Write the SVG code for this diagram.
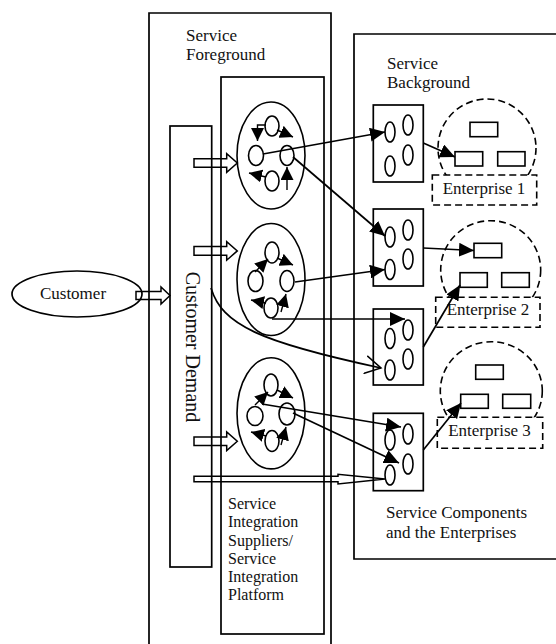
<svg xmlns="http://www.w3.org/2000/svg" width="556" height="644" viewBox="0 0 556 644">
<style>
  .ln{fill:none;stroke:#000;stroke-width:1.7}
  .bx{fill:none;stroke:#000;stroke-width:1.7}
  .wb{fill:#fff;stroke:#000;stroke-width:1.6}
  .el{fill:#fff;stroke:#000;stroke-width:1.6}
  .ds{fill:none;stroke:#000;stroke-width:1.6;stroke-dasharray:7 4}
  .dl{fill:#fff;stroke:#000;stroke-width:1.6;stroke-dasharray:7 4}
  .ba{fill:none;stroke:#000;stroke-width:1.5;stroke-linejoin:miter}
  .t{font-family:"Liberation Serif","Times New Roman",serif;font-size:17px;fill:#111}
  .ts{font-family:"Liberation Serif","Times New Roman",serif;font-size:16px;fill:#111}
  .c{fill:none;stroke:#000;stroke-width:1.6}
  .ci{fill:none;stroke:#000;stroke-width:1.4}
</style>
<defs>
  <marker id="ah" markerUnits="userSpaceOnUse" markerWidth="16" markerHeight="14" refX="15" refY="7" orient="auto">
    <path d="M0,0 L15,7 L0,14 z" fill="#000"/>
  </marker>
  <marker id="as" markerUnits="userSpaceOnUse" markerWidth="14" markerHeight="13" refX="13" refY="6.5" orient="auto">
    <path d="M0,0 L13,6.5 L0,13 z" fill="#000"/>
  </marker>
  <marker id="ao" markerUnits="userSpaceOnUse" markerWidth="18" markerHeight="20" refX="16" refY="10" orient="auto">
    <path d="M0,1 L16,10 L0,19" fill="none" stroke="#000" stroke-width="1.5"/>
  </marker>
</defs>

<g id="service-foreground">
  <path class="bx" d="M149,660 V13 H331 V660"/>
  <text class="t" x="186" y="41">Service</text>
  <text class="t" x="186" y="60">Foreground</text>
</g>

<g id="service-background">
  <path class="bx" d="M580,34 H354 V559 H580"/>
  <text class="t" x="387" y="69">Service</text>
  <text class="t" x="387" y="88">Background</text>
  <text class="t" x="386" y="518">Service Components</text>
  <text class="t" x="386" y="538">and the Enterprises</text>
</g>

<g id="platform">
  <rect class="bx" x="221" y="77" width="103" height="557"/>
  <text class="ts" x="228" y="509">Service</text>
  <text class="ts" x="228" y="527">Integration</text>
  <text class="ts" x="228" y="545.5">Suppliers/</text>
  <text class="ts" x="228" y="564">Service</text>
  <text class="ts" x="228" y="582">Integration</text>
  <text class="ts" x="228" y="600">Platform</text>
</g>

<g id="customer-demand">
  <rect class="bx" x="170" y="126" width="41.7" height="441"/>
  <text class="t" style="font-size:20px" text-anchor="middle" transform="translate(186,347) rotate(90)">Customer Demand</text>
</g>

<g id="customer">
  <ellipse class="bx" cx="77" cy="294" rx="65" ry="23"/>
  <text class="t" x="73" y="299" text-anchor="middle">Customer</text>
</g>

<g id="process-1">
  <ellipse class="c" cx="271" cy="155.5" rx="34" ry="53.5"/>
  <ellipse class="el" cx="272" cy="126" rx="7" ry="10"/>
  <ellipse class="el" cx="256" cy="155.5" rx="7.5" ry="10"/>
  <ellipse class="el" cx="287" cy="155.5" rx="7" ry="10"/>
  <ellipse class="el" cx="272" cy="181" rx="7" ry="10"/>
</g>
<g id="process-2">
  <ellipse class="c" cx="271" cy="279.5" rx="34" ry="56"/>
  <ellipse class="el" cx="272" cy="252.5" rx="7" ry="10.5"/>
  <ellipse class="el" cx="255.5" cy="281" rx="7.5" ry="10.5"/>
  <ellipse class="el" cx="287" cy="281" rx="7" ry="10.5"/>
  <ellipse class="el" cx="271" cy="308" rx="7" ry="10"/>
</g>
<g id="process-3">
  <ellipse class="c" cx="271" cy="413.3" rx="34" ry="55.6"/>
  <ellipse class="el" cx="271" cy="385" rx="7" ry="11"/>
  <ellipse class="el" cx="255" cy="416" rx="8" ry="9.5"/>
  <ellipse class="el" cx="287" cy="414" rx="8" ry="11"/>
  <ellipse class="el" cx="272" cy="441" rx="7" ry="10.5"/>
</g>

<g id="component-1">
  <rect class="bx" x="373.3" y="105" width="50" height="77"/>
  <ellipse class="el" cx="390" cy="132" rx="5" ry="10"/>
  <ellipse class="el" cx="390" cy="166" rx="5" ry="10"/>
  <ellipse class="el" cx="408" cy="125" rx="5" ry="10"/>
  <ellipse class="el" cx="408" cy="155" rx="5" ry="10"/>
</g>
<g id="component-2">
  <rect class="bx" x="373.3" y="209" width="50" height="77"/>
  <ellipse class="el" cx="390" cy="237" rx="5" ry="10"/>
  <ellipse class="el" cx="390" cy="269.5" rx="5" ry="10"/>
  <ellipse class="el" cx="408" cy="230" rx="5" ry="10"/>
  <ellipse class="el" cx="408" cy="259" rx="5" ry="10"/>
</g>
<g id="component-3">
  <rect class="bx" x="373.3" y="309" width="50" height="76"/>
  <ellipse class="el" cx="390" cy="338.5" rx="5" ry="10"/>
  <ellipse class="el" cx="390" cy="370" rx="5" ry="10"/>
  <ellipse class="el" cx="408" cy="330" rx="5" ry="10"/>
  <ellipse class="el" cx="408" cy="359" rx="5" ry="10"/>
</g>
<g id="component-4">
  <rect class="bx" x="373.3" y="413.3" width="50" height="77.4"/>
  <ellipse class="el" cx="390" cy="440" rx="5" ry="10"/>
  <ellipse class="el" cx="390" cy="475" rx="5" ry="10"/>
  <ellipse class="el" cx="408" cy="434" rx="5" ry="10"/>
  <ellipse class="el" cx="408" cy="464" rx="5" ry="10"/>
</g>

<g id="enterprise-1">
  <ellipse class="ds" cx="487" cy="148" rx="49" ry="49"/>
  <rect class="wb" x="470" y="122.3" width="27.7" height="14.4"/>
  <rect class="wb" x="455" y="151.7" width="27.7" height="14.3"/>
  <rect class="wb" x="497.7" y="151.7" width="27.3" height="14.3"/>
  <rect class="dl" x="432.3" y="175" width="104.4" height="30"/>
  <text class="t" x="484" y="193.5" text-anchor="middle">Enterprise 1</text>
</g>
<g id="enterprise-2">
  <ellipse class="ds" cx="490.7" cy="270" rx="50" ry="49.3"/>
  <rect class="wb" x="474" y="243.3" width="27.7" height="14.4"/>
  <rect class="wb" x="460" y="272.7" width="27.3" height="14.6"/>
  <rect class="wb" x="501.7" y="272.7" width="27.6" height="14.6"/>
  <rect class="dl" x="435.7" y="297.3" width="104.3" height="30"/>
  <text class="t" x="488" y="315" text-anchor="middle">Enterprise 2</text>
</g>
<g id="enterprise-3">
  <ellipse class="ds" cx="491.3" cy="391" rx="51" ry="49.3"/>
  <rect class="wb" x="475.7" y="365" width="27.6" height="14.3"/>
  <rect class="wb" x="460.7" y="394.3" width="27.6" height="14"/>
  <rect class="wb" x="502.7" y="394.3" width="28" height="14"/>
  <rect class="dl" x="437.3" y="417.3" width="105.4" height="31"/>
  <text class="t" x="489.5" y="435.5" text-anchor="middle">Enterprise 3</text>
</g>

<g id="connectors">
  <!-- block arrows -->
  <polygon class="ba" points="136,291.5 161,291.5 161,287 170,295.5 161,304 161,299.5 136,299.5"/>
  <polygon class="ba" points="194,158.7 226.7,158.7 226.7,153.7 237.3,163 226.7,172.3 226.7,167.3 194,167.3"/>
  <polygon class="ba" points="194,246.6 226.7,246.6 226.7,241.6 237.3,250.9 226.7,260.2 226.7,255.2 194,255.2"/>
  <polygon class="ba" points="194,437 226.7,437 226.7,432 237.3,441.3 226.7,450.6 226.7,445.6 194,445.6"/>
  <polygon class="ba" points="194,476.3 338,476.3 338,474.3 385,479 338,484 338,481.8 194,481.8"/>

  <!-- internal process arrows -->
  <path class="ci" d="M266,125 H257.5 V141" marker-end="url(#as)"/>
  <path class="ci" d="M277,130 L293,137" marker-end="url(#as)"/>
  <path class="ci" d="M287,190 V167" marker-end="url(#as)"/>
  <path class="ci" d="M266,177 L249,173" marker-end="url(#as)"/>

  <path class="ci" d="M255,272 L268,259" marker-end="url(#as)"/>
  <path class="ci" d="M277,258 L293,265" marker-end="url(#as)"/>
  <path class="ci" d="M266,303 L251,300" marker-end="url(#as)"/>
  <path class="ci" d="M281,312 L286,294" marker-end="url(#as)"/>

  <path class="ci" d="M255,405 L268,392" marker-end="url(#as)"/>
  <path class="ci" d="M277,390 L293,398" marker-end="url(#as)"/>
  <path class="ci" d="M266,436 L251,432" marker-end="url(#as)"/>
  <path class="ci" d="M281,445 L286,427" marker-end="url(#as)"/>

  <!-- process to components -->
  <path class="ln" d="M263,154 L385,132" marker-end="url(#ah)"/>
  <path class="ln" d="M293,157 L385,236" marker-end="url(#ah)"/>
  <path class="ln" d="M295,282 L385,269.5" marker-end="url(#ah)"/>
  <path class="ln" d="M272,319 H405" marker-end="url(#ah)"/>
  <path class="ln" d="M211,288 C222,325 260,342 381,368" marker-end="url(#ao)"/>
  <path class="ln" d="M262,404 L401,427" marker-end="url(#ah)"/>
  <path class="ln" d="M293,413 L399,463" marker-end="url(#ah)"/>

  <!-- components to enterprises -->
  <path class="ln" d="M423.3,143 L455,157" marker-end="url(#ah)"/>
  <path class="ln" d="M423.3,248 L474,250.5" marker-end="url(#ah)"/>
  <path class="ln" d="M423.3,347 L460,285" marker-end="url(#ah)"/>
  <path class="ln" d="M423.3,450 L461,403" marker-end="url(#ah)"/>
</g>
</svg>
